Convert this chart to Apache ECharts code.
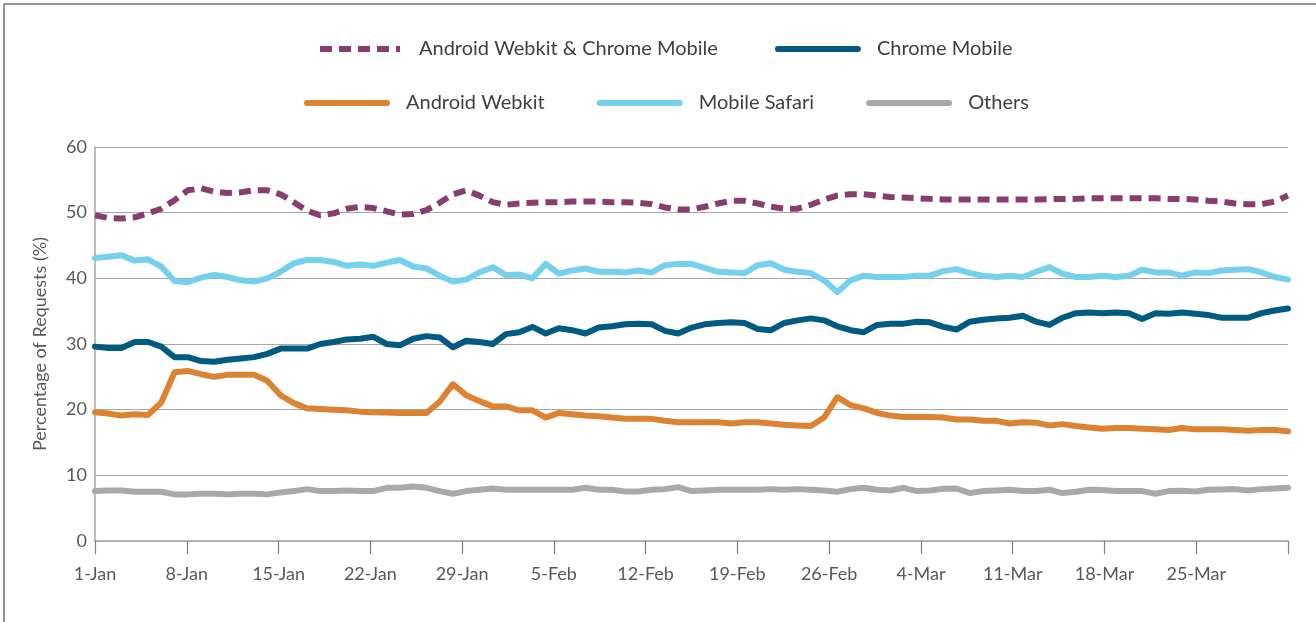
<!DOCTYPE html>
<html>
<head>
<meta charset="utf-8">
<script src="https://cdn.jsdelivr.net/npm/echarts@6/dist/echarts.min.js"></script>
<style>html,body{margin:0;padding:0;background:#fff}#c{width:1316px;height:622px}</style>
</head>
<body>
<div id="c"></div>
<script>
// ---- data ----
const monthNames = ['Jan','Feb','Mar','Apr'];
const dates = [];
for (let i = 0; i < 91; i++) { const d = new Date(2012, 0, 1 + i); dates.push(d.getDate() + '-' + monthNames[d.getMonth()]); }
const tickLabels = ['1-Jan','8-Jan','15-Jan','22-Jan','29-Jan','5-Feb','12-Feb','19-Feb','26-Feb','4-Mar','11-Mar','18-Mar','25-Mar',''];
const yTicks = [0,10,20,30,40,50,60];

const awcm = [49.6,49.2,49.1,49.3,49.9,50.6,51.9,53.4,53.7,53.2,
  53.0,53.1,53.4,53.4,52.8,51.6,50.3,49.6,49.9,50.6,
  50.9,50.7,50.2,49.7,49.8,50.4,51.5,52.8,53.4,52.6,
  51.6,51.2,51.4,51.5,51.6,51.6,51.7,51.7,51.7,51.6,
  51.6,51.5,51.3,50.8,50.5,50.5,50.9,51.4,51.8,51.8,
  51.4,50.9,50.6,50.6,51.2,52.0,52.6,52.8,52.8,52.6,
  52.4,52.3,52.2,52.1,52.0,52.0,52.0,52.0,52.0,52.0,
  52.0,52.0,52.05,52.1,52.1,52.2,52.2,52.2,52.2,52.2,
  52.2,52.1,52.1,52.0,51.8,51.7,51.4,51.3,51.3,51.7,
  52.6];
const chromeMobile = [29.6,29.4,29.4,30.3,30.3,29.6,28.0,28.0,27.4,27.3,
  27.6,27.8,28.0,28.5,29.3,29.3,29.3,30.0,30.3,30.7,
  30.8,31.1,30.0,29.8,30.8,31.2,31.0,29.5,30.5,30.3,
  30.0,31.5,31.8,32.6,31.6,32.4,32.1,31.6,32.5,32.7,
  33.0,33.1,33.0,32.0,31.6,32.5,33.0,33.2,33.3,33.2,
  32.3,32.1,33.2,33.6,33.9,33.6,32.7,32.1,31.8,32.9,
  33.1,33.1,33.4,33.3,32.6,32.2,33.4,33.7,33.9,34.0,
  34.3,33.4,32.9,34.0,34.7,34.8,34.7,34.8,34.7,33.8,
  34.7,34.6,34.8,34.6,34.4,34.0,34.0,34.0,34.7,35.1,
  35.4];
const androidWebkit = [19.6,19.4,19.1,19.3,19.2,21.1,25.7,25.9,25.4,25.0,
  25.3,25.3,25.3,24.4,22.2,21.0,20.2,20.1,20.0,19.9,
  19.7,19.6,19.55,19.5,19.5,19.5,21.2,23.9,22.2,21.3,
  20.5,20.5,19.9,19.9,18.8,19.5,19.3,19.1,19.0,18.8,
  18.6,18.6,18.6,18.3,18.1,18.1,18.1,18.1,17.9,18.1,
  18.1,17.9,17.7,17.6,17.5,18.8,21.9,20.7,20.2,19.5,
  19.1,18.9,18.9,18.9,18.8,18.5,18.5,18.3,18.3,17.9,
  18.1,18.0,17.6,17.8,17.5,17.3,17.1,17.2,17.2,17.1,
  17.0,16.9,17.2,17.0,17.0,17.0,16.9,16.8,16.9,16.9,
  16.7];
const mobileSafari = [43.1,43.3,43.5,42.7,42.9,41.8,39.6,39.4,40.1,40.5,
  40.2,39.7,39.5,40.0,41.0,42.3,42.8,42.8,42.5,41.9,
  42.1,41.9,42.4,42.8,41.8,41.5,40.4,39.5,39.8,40.9,
  41.7,40.5,40.6,40.0,42.2,40.7,41.2,41.5,41.0,41.0,
  40.9,41.2,40.9,42.0,42.2,42.2,41.6,41.0,40.9,40.8,
  42.0,42.3,41.3,41.0,40.8,39.7,37.9,39.7,40.4,40.2,
  40.2,40.2,40.4,40.4,41.1,41.4,40.8,40.4,40.2,40.4,
  40.2,41.0,41.7,40.7,40.2,40.2,40.4,40.2,40.4,41.3,
  40.9,40.9,40.4,40.9,40.8,41.2,41.3,41.4,40.9,40.2,
  39.8];
const others = [7.6,7.7,7.7,7.5,7.5,7.5,7.1,7.1,7.2,7.2,
  7.1,7.2,7.2,7.1,7.4,7.6,7.9,7.6,7.6,7.7,
  7.6,7.6,8.1,8.1,8.3,8.1,7.6,7.2,7.6,7.8,
  8.0,7.8,7.8,7.8,7.8,7.8,7.8,8.1,7.8,7.8,
  7.55,7.55,7.8,7.9,8.2,7.6,7.7,7.8,7.8,7.8,
  7.8,7.9,7.8,7.9,7.8,7.7,7.5,7.9,8.1,7.8,
  7.7,8.1,7.6,7.7,7.95,8.0,7.3,7.6,7.7,7.8,
  7.6,7.6,7.8,7.3,7.5,7.8,7.75,7.6,7.6,7.6,
  7.2,7.6,7.65,7.55,7.8,7.85,7.9,7.7,7.9,8.0,
  8.1];

// ---- chart ----
const FONT = 'Lato';
const chart = echarts.init(document.getElementById('c'), null, {renderer: 'canvas'});
const legendText = {fontFamily: FONT, fontSize: 20, color: '#404040', padding: [0, 0, 0, 14]};
function lineSeries(name, data, color, dashed) {
  return {
    name, type: 'line', data, xAxisIndex: 0, yAxisIndex: 0,
    symbol: 'none', smooth: false, animation: false,
    lineStyle: {color, width: 6, type: dashed ? [12, 7] : 'solid', cap: dashed ? 'butt' : 'round', join: 'round'},
    itemStyle: {color}
  };
}
const legendBase = {padding: 0, itemWidth: 80, itemHeight: 14, textStyle: legendText,
  lineStyle: {width: 6}, itemStyle: {opacity: 0}};
chart.setOption({
  animation: false,
  backgroundColor: '#ffffff',
  graphic: [
    {type: 'line', shape: {x1: 4, y1: 4, x2: 1316, y2: 4}, style: {stroke: '#707070', lineWidth: 1.5}},
    {type: 'line', shape: {x1: 4, y1: 4, x2: 4, y2: 622}, style: {stroke: '#707070', lineWidth: 1.5}}
  ],
  legend: [
    Object.assign({}, legendBase, {data: ['Android Webkit & Chrome Mobile', 'Chrome Mobile'], left: 317, top: 39, itemGap: 57}),
    Object.assign({}, legendBase, {data: ['Android Webkit', 'Mobile Safari', 'Others'], left: 304, top: 93, itemGap: 52})
  ],
  grid: {left: 95, right: 28, top: 147, bottom: 81, containLabel: false},
  xAxis: [
    {type: 'category', data: dates, boundaryGap: false, show: false},
    {type: 'value', min: 0, max: 91, interval: 7, position: 'bottom',
     axisLine: {show: true, lineStyle: {color: '#a6a6a6', width: 1.5}},
     axisTick: {show: true, length: 13, lineStyle: {color: '#808080', width: 1.2}},
     splitLine: {show: false},
     axisLabel: {fontFamily: FONT, fontSize: 18, color: '#595959', margin: 24,
       formatter: v => tickLabels[Math.round(v / 7)] || ''}}
  ],
  yAxis: {
    type: 'value', min: yTicks[0], max: yTicks[yTicks.length - 1], interval: 10,
    name: 'Percentage of Requests (%)', nameLocation: 'middle', nameGap: 46,
    nameTextStyle: {fontFamily: FONT, fontSize: 18, color: '#595959'},
    axisLine: {show: true, lineStyle: {color: '#a6a6a6', width: 1.5}},
    axisTick: {show: false},
    splitLine: {show: true, lineStyle: {color: '#a6a6a6', width: 1.2}},
    axisLabel: {fontFamily: FONT, fontSize: 18, color: '#595959', margin: 8}
  },
  series: [
    lineSeries('Android Webkit & Chrome Mobile', awcm, '#873d6d', true),
    lineSeries('Chrome Mobile', chromeMobile, '#005a81', false),
    lineSeries('Android Webkit', androidWebkit, '#dc8332', false),
    lineSeries('Mobile Safari', mobileSafari, '#74d0ec', false),
    lineSeries('Others', others, '#a8a9ad', false)
  ]
});
</script>
</body>
</html>
